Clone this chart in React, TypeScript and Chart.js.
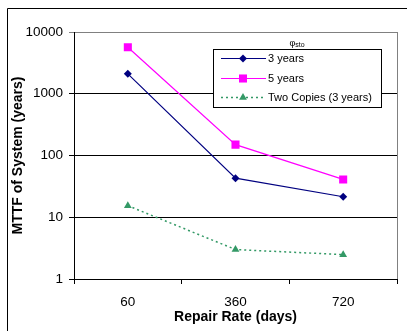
import React, { useEffect, useRef } from 'react';
import { Chart, registerables } from 'chart.js';

Chart.register(...registerables);

const categories = ['60', '360', '720'];
const threeYears = [2100, 43, 21.5];
const fiveYears = [5650, 150, 41];
const twoCopies = [15.4, 3.0, 2.48];
const yTickValues = [1, 10, 100, 1000, 10000];
const seriesNames = ['3 years', '5 years', 'Two Copies (3 years)'];
const legendTitleMain = 'φ';
const legendTitleSub = 'sto';
const xTitle = 'Repair Rate (days)';
const yTitle = 'MTTF of System (years)';

const FONT = "'Liberation Sans', Arial, sans-serif";
const NAVY = '#000080';
const MAGENTA = '#FF00FF';
const GREEN = '#339966';

function drawMarker(ctx: CanvasRenderingContext2D, style: string, x: number, y: number, r: number, color: string) {
  ctx.save();
  ctx.fillStyle = color;
  ctx.beginPath();
  if (style === 'rectRot') {
    ctx.moveTo(x, y - r);
    ctx.lineTo(x + r, y);
    ctx.lineTo(x, y + r);
    ctx.lineTo(x - r, y);
  } else if (style === 'rect') {
    const s = r * Math.SQRT1_2;
    ctx.rect(x - s, y - s, 2 * s, 2 * s);
  } else {
    ctx.moveTo(x, y - r);
    ctx.lineTo(x + r * Math.sqrt(3) / 2, y + r / 2);
    ctx.lineTo(x - r * Math.sqrt(3) / 2, y + r / 2);
  }
  ctx.closePath();
  ctx.fill();
  ctx.restore();
}

const framePlugin = {
  id: 'frame',
  beforeDraw(chart: any) {
    const ctx = chart.ctx as CanvasRenderingContext2D;
    ctx.save();
    ctx.strokeStyle = '#000';
    ctx.lineWidth = 1;
    ctx.beginPath();
    ctx.moveTo(7.5, chart.height + 5);
    ctx.lineTo(7.5, 8.5);
    ctx.lineTo(chart.width + 5, 8.5);
    ctx.stroke();
    ctx.restore();
  },
  afterDraw(chart: any) {
    const ctx = chart.ctx as CanvasRenderingContext2D;
    const ca = chart.chartArea;
    ctx.save();
    ctx.strokeStyle = '#808080';
    ctx.lineWidth = 1;
    ctx.beginPath();
    ctx.moveTo(Math.round(ca.right) + 0.5, ca.top);
    ctx.lineTo(Math.round(ca.right) + 0.5, ca.bottom);
    ctx.stroke();

    // legend
    const lx = 213, ly = 49, lw = 168, lh = 58;
    ctx.fillStyle = '#fff';
    ctx.fillRect(lx, ly, lw, lh);
    ctx.strokeStyle = '#000';
    ctx.strokeRect(lx + 0.5, ly + 0.5, lw, lh);

    // legend title
    ctx.fillStyle = '#000';
    ctx.textBaseline = 'alphabetic';
    ctx.textAlign = 'left';
    ctx.font = `9px ${FONT}`;
    const mw = ctx.measureText(legendTitleMain).width;
    ctx.font = `7px ${FONT}`;
    const sw = ctx.measureText(legendTitleSub).width;
    const tx = 297 - (mw + sw) / 2;
    ctx.font = `9px ${FONT}`;
    ctx.fillText(legendTitleMain, tx, 46);
    ctx.font = `7px ${FONT}`;
    ctx.fillText(legendTitleSub, tx + mw, 47);

    const styles = ['rectRot', 'rect', 'triangle'];
    const colors = [NAVY, MAGENTA, GREEN];
    const radii = [4, 5.7, 4.5];
    const rows = [58, 78, 97];
    for (let i = 0; i < 3; i++) {
      const y = rows[i];
      ctx.save();
      ctx.strokeStyle = colors[i];
      ctx.lineWidth = i === 2 ? 1.5 : 1;
      ctx.setLineDash(i === 2 ? [2, 3] : []);
      ctx.beginPath();
      ctx.moveTo(221, y + 0.5);
      ctx.lineTo(266, y + 0.5);
      ctx.stroke();
      ctx.restore();
      drawMarker(ctx, styles[i], 243, y + 0.5, radii[i], colors[i]);
      ctx.fillStyle = '#000';
      ctx.font = `11px ${FONT}`;
      ctx.textBaseline = 'middle';
      ctx.fillText(seriesNames[i], 268, y + 1);
    }
    ctx.restore();
  },
};

export default function App() {
  const ref = useRef<HTMLCanvasElement | null>(null);
  useEffect(() => {
    if (!ref.current) return;
    const chart = new Chart(ref.current, {
      type: 'line',
      data: {
        labels: categories,
        datasets: [
          {
            label: seriesNames[0],
            data: threeYears,
            borderColor: NAVY,
            backgroundColor: NAVY,
            borderWidth: 1.2,
            pointStyle: 'rectRot',
            pointRadius: 4,
            pointBorderWidth: 0,
          },
          {
            label: seriesNames[1],
            data: fiveYears,
            borderColor: MAGENTA,
            backgroundColor: MAGENTA,
            borderWidth: 1.2,
            pointStyle: 'rect',
            pointRadius: 5.7,
            pointBorderWidth: 0,
          },
          {
            label: seriesNames[2],
            data: twoCopies,
            borderColor: GREEN,
            backgroundColor: GREEN,
            borderWidth: 1.5,
            borderDash: [2, 3],
            pointStyle: 'triangle',
            pointRadius: 4.5,
            pointBorderWidth: 0,
          },
        ],
      },
      options: {
        responsive: false,
        animation: false,
        layout: { padding: { left: 0, top: 32, right: 10, bottom: 0 } },
        plugins: { legend: { display: false }, tooltip: { enabled: false } },
        scales: {
          x: {
            type: 'category',
            offset: true,
            grid: { offset: true, drawOnChartArea: false, tickLength: 5, color: '#000' },
            border: { color: '#000', width: 1 },
            ticks: { color: '#000', font: { family: FONT, size: 13.5 }, padding: 10, maxRotation: 0 },
            title: {
              display: true,
              text: xTitle,
              color: '#000',
              font: { family: FONT, size: 14, weight: 'bold' },
              padding: { top: 0, bottom: 5 },
            },
            afterFit(scale: any) {
              scale.height = 52;
            },
          },
          y: {
            type: 'logarithmic',
            min: 1,
            max: 10000,
            afterBuildTicks(scale: any) {
              scale.ticks = yTickValues.map((v) => ({ value: v }));
            },
            grid: {
              tickLength: 5,
              color: (c: any) => (c.tick && c.tick.value === 10000 ? '#808080' : '#000'),
            },
            border: { color: '#000', width: 1 },
            ticks: {
              color: '#000',
              font: { family: FONT, size: 13.5 },
              padding: 6,
              callback: (v: any) => String(v),
            },
            title: {
              display: true,
              text: yTitle,
              color: '#000',
              font: { family: FONT, size: 14, weight: 'bold' },
              padding: { top: 10, bottom: 0 },
            },
            afterFit(scale: any) {
              scale.width = 74;
            },
          },
        },
      },
      plugins: [framePlugin],
    } as any);
    return () => chart.destroy();
  }, []);
  return (
    <div style={{ position: 'fixed', left: 0, top: 0, width: 407, height: 331, background: '#fff' }}>
      <canvas ref={ref} width={407} height={331} style={{ display: 'block' }} />
    </div>
  );
}
